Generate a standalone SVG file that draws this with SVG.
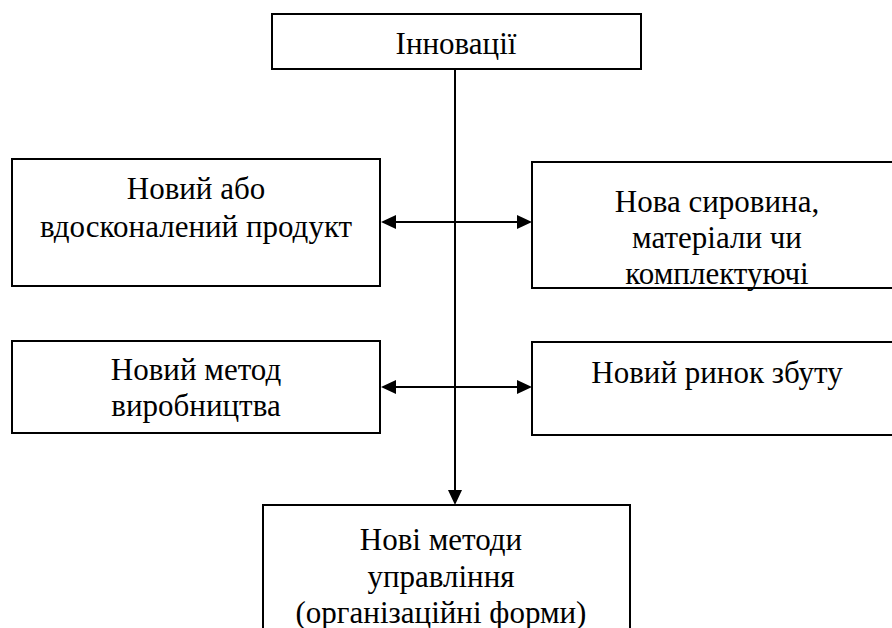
<svg xmlns="http://www.w3.org/2000/svg" width="892" height="628" viewBox="0 0 892 628">
<style>
.t{font-family:'Liberation Serif','Tinos','DejaVu Serif',serif;font-size:31px;text-anchor:middle;fill:#000}
.b{fill:#fff;stroke:#000;stroke-width:2}
</style>
<rect width="892" height="628" fill="#fff"/>
<g id="connectors">
<g stroke="#000" stroke-width="2" fill="none">
<line x1="455" y1="69" x2="455" y2="492"/>
<line x1="394" y1="222" x2="519" y2="222"/>
<line x1="394" y1="387" x2="519" y2="387"/>
</g>
<g fill="#000">
<polygon points="455,505 448,490 462,490"/>
<polygon points="381,222 396,215 396,229"/>
<polygon points="532,222 517,215 517,229"/>
<polygon points="381,387 396,380 396,394"/>
<polygon points="532,387 517,380 517,394"/>
</g>
</g>
<g id="n-innovations">
<rect class="b" x="272" y="14" width="369" height="55"/>
<text class="t" x="456" y="54">Інновації</text>
</g>
<g id="n-product">
<rect class="b" x="12" y="159" width="368" height="127"/>
<text class="t" x="196" y="199">Новий або</text>
<text class="t" x="196" y="237">вдосконалений продукт</text>
</g>
<g id="n-materials">
<rect class="b" x="532" y="162" width="372" height="126"/>
<text class="t" x="717" y="212">Нова сировина,</text>
<text class="t" x="717" y="248">матеріали чи</text>
<text class="t" x="717" y="284">комплектуючі</text>
</g>
<g id="n-method">
<rect class="b" x="12" y="341" width="368" height="92"/>
<text class="t" x="196" y="380">Новий метод</text>
<text class="t" x="196" y="416">виробництва</text>
</g>
<g id="n-market">
<rect class="b" x="532" y="342" width="372" height="93"/>
<text class="t" x="717" y="383">Новий ринок збуту</text>
</g>
<g id="n-management">
<rect class="b" x="263" y="505" width="367" height="140"/>
<text class="t" x="441" y="550">Нові методи</text>
<text class="t" x="441" y="587">управління</text>
<text class="t" x="441" y="623">(організаційні форми)</text>
</g>
</svg>
